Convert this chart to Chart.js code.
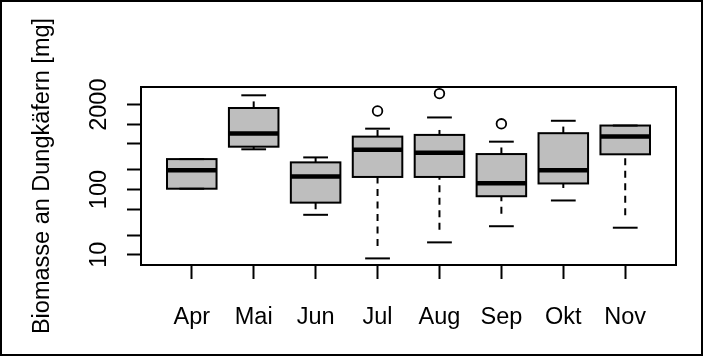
<!DOCTYPE html>
<html>
<head>
<meta charset="utf-8">
<script src="https://cdn.jsdelivr.net/npm/chart.js@4.4.1/dist/chart.umd.min.js"></script>
<style>
  html, body { margin: 0; padding: 0; background: #ffffff; }
  #wrap { width: 703px; height: 356px; }
</style>
</head>
<body>
<div id="wrap"><canvas id="c" width="703" height="356"></canvas></div>
<script>
// ---- data (mg, log scale) ----
const months       = ['Apr', 'Mai', 'Jun', 'Jul', 'Aug', 'Sep', 'Okt', 'Nov'];
const whiskerLow   = [103, 414, 41, 8.8, 15.5, 27.4, 68, 26];
const quartile1    = [103, 454, 63, 156, 156, 79, 124, 347];
const medians      = [198, 721, 158, 408, 367, 125, 198, 648];
const quartile3    = [293, 1779, 261, 648, 688, 350, 731, 958];
const whiskerHigh  = [293, 2785, 311, 858, 1274, 542, 1133, 958];
const outlierMonth = ['Jul', 'Aug', 'Sep'];
const outlierValue = [1599, 2958, 1018];
const yTickValues  = [10, 20, 50, 100, 200, 500, 1000, 2000];
const yTickLabels  = [10, 100, 2000];
const yTitle = 'Biomasse an Dungkäfern [mg]';

// R-style axis limits: data range extended by 4% on each side (log space for y)
const allVals = whiskerLow.concat(whiskerHigh, outlierValue);
const lmin = Math.log10(Math.min(...allVals));
const lmax = Math.log10(Math.max(...allVals));
const lr = lmax - lmin;
const yMin = Math.pow(10, lmin - 0.04 * lr);
const yMax = Math.pow(10, lmax + 0.04 * lr);
const xMin = 0.5 - 0.04 * months.length;
const xMax = months.length + 0.5 + 0.04 * months.length;

Chart.defaults.font.family = '"Liberation Sans", Arial, Helvetica, sans-serif';
Chart.defaults.font.size = 23.5;
Chart.defaults.color = '#000000';

const boxPlugin = {
  id: 'boxParts',
  afterDatasetsDraw(chart) {
    const ctx = chart.ctx;
    const ys = chart.scales.y;
    const meta = chart.getDatasetMeta(0);
    ctx.save();
    ctx.strokeStyle = '#000000';
    meta.data.forEach((bar, i) => {
      const x = bar.x;
      const w = bar.width;
      // box outline centred on the box edges
      ctx.setLineDash([]);
      ctx.lineWidth = 2;
      ctx.strokeRect(x - w / 2, Math.min(bar.y, bar.base), w, Math.abs(bar.base - bar.y));
      // median
      const my = ys.getPixelForValue(medians[i]);
      ctx.lineWidth = 4.5;
      ctx.lineCap = 'butt';
      ctx.beginPath();
      ctx.moveTo(x - w / 2, my);
      ctx.lineTo(x + w / 2, my);
      ctx.stroke();
      // whiskers (dashed), drawn from whisker end toward hinge
      const pairs = [[whiskerLow[i], quartile1[i]], [whiskerHigh[i], quartile3[i]]];
      pairs.forEach(([wv, hv]) => {
        const py = ys.getPixelForValue(wv);
        const hy = ys.getPixelForValue(hv);
        const len = Math.abs(hy - py);
        const gap = len > 14 ? 12.5 : Math.max(0, len - 6.6);
        if (len - gap > 0.5) {
          const dir = hy > py ? 1 : -1;
          ctx.lineWidth = 2;
          ctx.setLineDash([7, 5.5]);
          ctx.lineDashOffset = 0;
          ctx.beginPath();
          ctx.moveTo(x, py + dir * gap);
          ctx.lineTo(x, hy);
          ctx.stroke();
        }
        // staple
        ctx.setLineDash([]);
        ctx.lineDashOffset = 0;
        ctx.lineWidth = 2;
        ctx.beginPath();
        ctx.moveTo(x - w / 4, py);
        ctx.lineTo(x + w / 4, py);
        ctx.stroke();
      });
    });
    ctx.restore();
  },
  afterDraw(chart) {
    const ctx = chart.ctx;
    const a = chart.chartArea;
    ctx.save();
    ctx.strokeStyle = '#000000';
    ctx.setLineDash([]);
    ctx.lineWidth = 2;
    ctx.strokeRect(a.left, a.top, a.right - a.left, a.bottom - a.top);
    ctx.strokeRect(1, 1, chart.width - 2, chart.height - 2);
    ctx.restore();
  }
};

new Chart(document.getElementById('c'), {
  type: 'bar',
  data: {
    datasets: [
      {
        type: 'bar',
        label: 'box',
        data: months.map((m, i) => ({ x: i + 1, y: [quartile1[i], quartile3[i]] })),
        backgroundColor: 'rgb(190,190,190)',
        borderWidth: 0,
        borderSkipped: false,
        categoryPercentage: 0.8,
        barPercentage: 1.0
      },
      {
        type: 'scatter',
        label: 'outliers',
        data: outlierMonth.map((m, i) => ({ x: months.indexOf(m) + 1, y: outlierValue[i] })),
        pointStyle: 'circle',
        pointRadius: 4.8,
        pointBorderWidth: 1.8,
        pointBorderColor: '#000000',
        pointBackgroundColor: 'rgba(0,0,0,0)'
      }
    ]
  },
  options: {
    responsive: false,
    devicePixelRatio: 1,
    animation: false,
    events: [],
    layout: { padding: { top: 87, right: 27, left: 0, bottom: 0 } },
    plugins: { legend: { display: false }, tooltip: { enabled: false } },
    scales: {
      x: {
        type: 'linear',
        offset: false,
        min: xMin,
        max: xMax,
        bounds: 'data',
        border: { display: false },
        grid: { offset: false, drawOnChartArea: false, drawTicks: true, tickLength: 14, tickWidth: 2, tickColor: '#000000' },
        ticks: {
          autoSkip: false,
          maxRotation: 0,
          minRotation: 0,
          padding: 24,
          color: '#000000',
          callback: (v) => months[Math.round(v) - 1]
        },
        afterBuildTicks: (s) => { s.ticks = months.map((m, i) => ({ value: i + 1 })); },
        afterFit: (s) => { s.height = 91; s.paddingLeft = 0; s.paddingRight = 0; }
      },
      y: {
        type: 'logarithmic',
        min: yMin,
        max: yMax,
        bounds: 'data',
        border: { display: false },
        grid: { drawOnChartArea: false, drawTicks: true, tickLength: 14, tickWidth: 2, tickColor: '#000000' },
        ticks: {
          autoSkip: false,
          minRotation: 90,
          maxRotation: 90,
          crossAlign: 'center',
          padding: 1,
          color: '#000000',
          callback: (v) => (yTickLabels.includes(v) ? String(v) : '')
        },
        title: {
          display: true,
          text: yTitle,
          color: '#000000',
          font: { size: 23.5 },
          padding: { top: 28, bottom: 0 }
        },
        afterBuildTicks: (s) => { s.ticks = yTickValues.map((v) => ({ value: v })); },
        afterFit: (s) => { s.width = 141; s.paddingTop = 0; s.paddingBottom = 0; }
      }
    }
  },
  plugins: [boxPlugin]
});
</script>
</body>
</html>
